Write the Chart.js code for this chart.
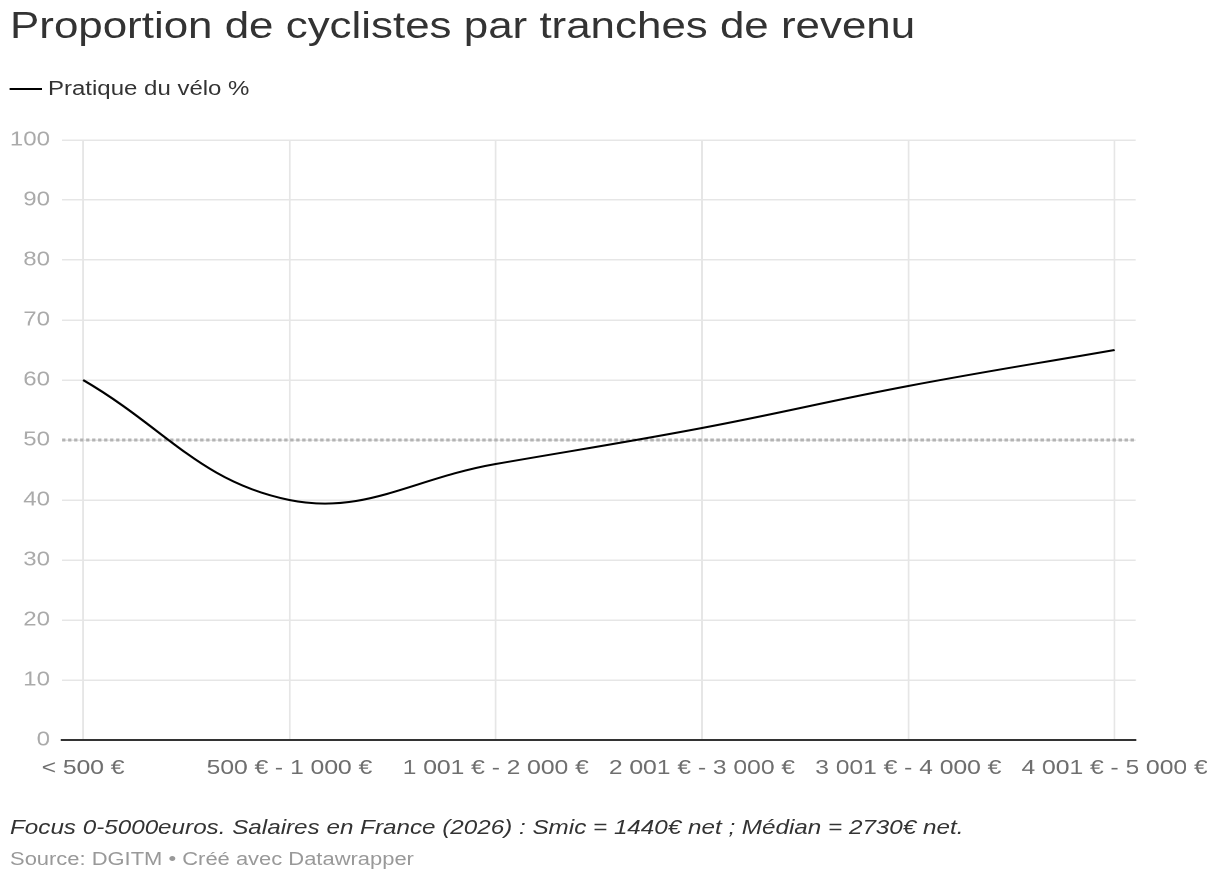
<!DOCTYPE html>
<html lang="fr">
<head>
<meta charset="utf-8">
<script src="https://cdn.jsdelivr.net/npm/chart.js@4/dist/chart.umd.min.js"></script>
<style>
  html, body { margin: 0; padding: 0; background: #fff; overflow: hidden; }
  #page { position: absolute; left: 0; top: 0; height: 882px; transform-origin: 0 0; font-family: "Liberation Sans", Arial, Helvetica, sans-serif; }
  .t { position: absolute; white-space: nowrap; }
</style>
</head>
<body>
<div id="page">
  <div class="t" id="title">Proportion de cyclistes par tranches de revenu</div>
  <div id="legendLine" style="position:absolute;background:#000;"></div>
  <div class="t" id="legendText">Pratique du vélo %</div>
  <div id="chartBox" style="position:absolute;"><canvas id="c"></canvas></div>
  <div class="t" id="note">Focus 0-5000euros. Salaires en France (2026) : Smic = 1440€ net ; Médian = 2730€ net.</div>
  <div class="t" id="source">Source: DGITM • Créé avec Datawrapper</div>
</div>
<script>
// ---- data ----
const categories = ['< 500 €', '500 € - 1 000 €', '1 001 € - 2 000 €', '2 001 € - 3 000 €', '3 001 € - 4 000 €', '4 001 € - 5 000 €'];
const cyclingShare = [60, 40, 46, 52, 59, 65];
const yTickValues = [0, 10, 20, 30, 40, 50, 60, 70, 80, 90, 100];
const referenceLine = 50;
const seriesLabel = 'Pratique du vélo %';

// ---- layout (horizontal stretch factor of the reference) ----
const K = 1.2;
const W = 1220 / K;
const page = document.getElementById('page');
page.style.width = W + 'px';
page.style.transform = 'scaleX(' + K + ')';

function place(id, left, top, size, color, extra) {
  const el = document.getElementById(id);
  el.style.left = (left / K) + 'px';
  el.style.top = top + 'px';
  el.style.fontSize = size + 'px';
  el.style.lineHeight = size + 'px';
  el.style.color = color;
  if (extra) Object.assign(el.style, extra);
}
place('title', 10, 8, 36.6, '#333');
place('legendText', 48, 78, 20, '#333');
place('note', 10, 817, 20.2, '#333', { fontStyle: 'italic' });
place('source', 10, 850, 18.3, '#999');
const ll = document.getElementById('legendLine');
Object.assign(ll.style, { left: (10 / K) + 'px', top: '88px', width: (32 / K) + 'px', height: '2px' });

const box = document.getElementById('chartBox');
Object.assign(box.style, { left: '0px', top: '120px', width: W + 'px', height: '680px' });

const plotLeft = 62 / K, plotRight = 1135 / K;

const refLinePlugin = {
  id: 'refLine',
  beforeDatasetsDraw(chart) {
    const { ctx, chartArea, scales } = chart;
    const y = scales.y.getPixelForValue(referenceLine);
    ctx.save();
    ctx.strokeStyle = '#b3b3b3';
    ctx.lineWidth = 3;
    ctx.setLineDash([2.8, 2.2]);
    ctx.beginPath();
    ctx.moveTo(chartArea.left, y);
    ctx.lineTo(chartArea.right, y);
    ctx.stroke();
    ctx.restore();
  }
};

new Chart(document.getElementById('c'), {
  type: 'line',
  data: {
    datasets: [{
      label: seriesLabel,
      data: cyclingShare.map((v, i) => ({ x: i, y: v })),
      borderColor: '#000',
      borderWidth: 2,
      pointRadius: 0,
      pointHoverRadius: 0,
      fill: false,
      tension: 0.4
    }]
  },
  options: {
    responsive: true,
    maintainAspectRatio: false,
    devicePixelRatio: 2,
    animation: false,
    events: [],
    layout: { padding: { top: 20, right: W - plotRight, left: 0, bottom: 0 } },
    plugins: { legend: { display: false }, tooltip: { enabled: false }, title: { display: false } },
    scales: {
      x: {
        type: 'linear',
        min: -0.102,
        max: categories.length - 1 + 0.102,
        afterBuildTicks(scale) { scale.ticks = categories.map((c, i) => ({ value: i })); },
        afterFit(scale) { scale.height = 60; scale.paddingLeft = 0; scale.paddingRight = 0; },
        ticks: {
          autoSkip: false,
          maxRotation: 0,
          padding: 16,
          color: '#6e6e6e',
          font: { family: '"Liberation Sans", Arial, sans-serif', size: 20.5 },
          callback: (v) => categories[v]
        },
        grid: { color: '#e6e6e6', lineWidth: 1.5, drawTicks: false },
        border: { display: true, color: '#333', width: 2 }
      },
      y: {
        min: 0,
        max: 100,
        afterBuildTicks(scale) { scale.ticks = yTickValues.map(v => ({ value: v })); },
        afterFit(scale) { scale.width = plotLeft; scale.paddingTop = 0; scale.paddingBottom = 0; },
        ticks: {
          padding: 10,
          color: '#aaaaaa',
          font: { family: '"Liberation Sans", Arial, sans-serif', size: 20 }
        },
        grid: { color: '#e6e6e6', lineWidth: 1.5, drawTicks: false },
        border: { display: false }
      }
    }
  },
  plugins: [refLinePlugin]
});
</script>
</body>
</html>
